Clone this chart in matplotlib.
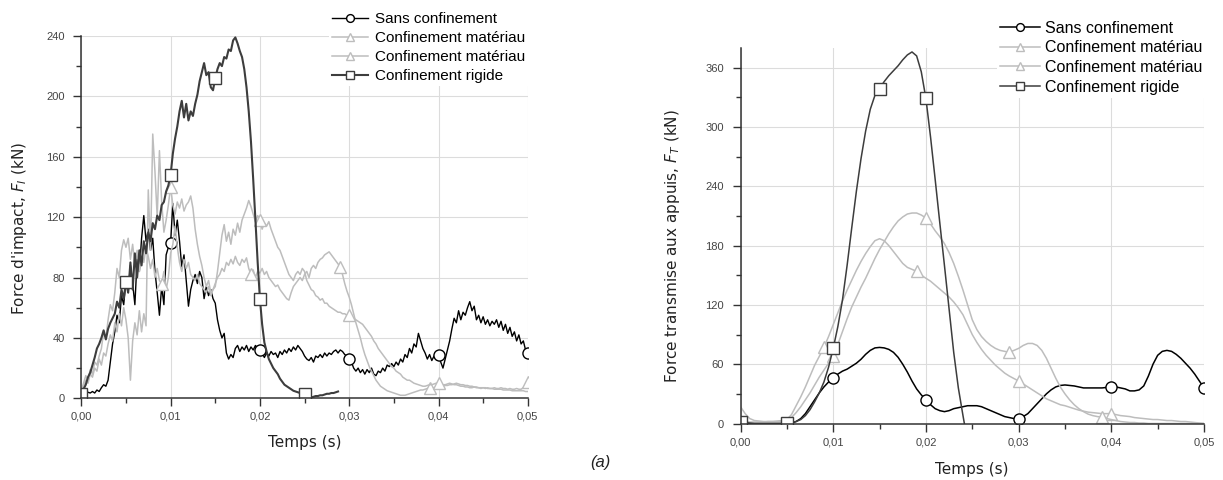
import numpy as np
import matplotlib
matplotlib.use("Agg")
import matplotlib.pyplot as plt
from matplotlib.ticker import MultipleLocator, FuncFormatter

plt.rcParams['font.family'] = ['Liberation Sans', 'DejaVu Sans']

# Grilles temporelles (s) : 0,25 ms pour F_I, 0,5 ms pour F_T
t_I = np.arange(201) * 0.25e-3
t_T = np.arange(101) * 0.5e-3

labels = ["Sans confinement", "Confinement matériau",
          "Confinement matériau", "Confinement rigide"]

# ---- Force d'impact F_I (kN) ----
sans_I = [2, 3, 2.5, 4, 3.5, 4.5, 3.5, 5.5, 4.5, 7, 9, 8, 12, 24, 36, 44, 55, 50, 68, 62,
          78, 70, 88, 76, 62, 92, 84, 106, 121, 104, 112, 98, 106, 84, 70, 55, 74, 62, 95, 100,
          103, 129, 108, 118, 104, 87, 95, 78, 61, 72, 78, 82, 76, 84, 80, 66, 74, 68, 72, 66,
          63, 52, 45, 40, 43, 30, 26, 29, 27, 33, 35, 31, 34, 32, 35, 31, 34, 32, 35, 33,
          32, 30, 27, 30, 28, 31, 29, 30, 27, 31, 29, 32, 30, 33, 31, 34, 32, 35, 33, 31,
          28, 26, 25, 27, 24, 28, 27, 29, 27, 30, 28, 30, 29, 31, 32, 30, 32, 31, 29, 28,
          26, 24, 20, 18, 20, 17, 19, 16, 19, 17, 20, 16, 15, 18, 17, 20, 18, 22, 21, 23,
          21, 24, 22, 26, 24, 29, 27, 33, 30, 36, 34, 43, 38, 33, 30, 26, 29, 25, 28, 27,
          29, 24, 20, 26, 32, 38, 46, 53, 50, 58, 52, 57, 55, 60, 64, 58, 61, 52, 55, 50,
          54, 49, 52, 48, 51, 49, 52, 47, 51, 45, 49, 43, 47, 41, 44, 38, 42, 36, 38, 32,
          30]
matP_I = [5, 10, 15, 12, 19, 16, 24, 22, 28, 33, 44, 40, 52, 62, 58, 70, 86, 80, 98, 105,
          100, 106, 92, 102, 88, 98, 84, 96, 90, 100, 94, 86, 92, 80, 86, 78, 76, 84, 72, 80,
          96, 102, 114, 100, 90, 84, 92, 86, 90, 82, 80, 78, 82, 76, 74, 72, 70, 74, 68, 72,
          76, 80, 82, 86, 84, 90, 88, 92, 89, 94, 90, 88, 92, 90, 93, 86, 82, 85, 80, 84,
          83, 86, 82, 84, 80, 78, 76, 74, 75, 72, 70, 68, 66, 65, 70, 74, 76, 78, 80, 78,
          82, 84, 80, 86, 88, 86, 90, 92, 93, 95, 96, 97, 95, 93, 91, 89, 87, 82, 76, 71,
          67, 62, 56, 50, 45, 40, 34, 29, 25, 21, 18, 15, 12, 10, 8, 7, 6, 5, 4.5, 4,
          3.5, 3, 2.5, 2, 2, 2, 2.5, 3, 3.5, 4, 4.5, 5, 5.5, 5.5, 6, 6.5, 6.6, 7, 7, 7.5,
          7.5, 8, 8, 8.5, 8.5, 9, 9, 9.5, 10, 9.5, 9, 9, 8.5, 8.5, 8, 8, 7.5, 7.5, 7, 7,
          7, 7, 6.5, 6.5, 6.5, 6, 6, 6, 6, 5.5, 5.5, 5.5, 5.5, 5, 5, 5, 5, 5, 5, 4.5,
          4.5]
matQ_I = [3, 8, 12, 10, 16, 14, 20, 18, 26, 22, 30, 28, 36, 42, 38, 50, 44, 56, 48, 60,
          52, 40, 12, 38, 50, 42, 58, 44, 56, 48, 138, 98, 175, 150, 120, 164, 130, 110, 118, 128,
          140, 128, 122, 130, 126, 132, 124, 128, 130, 134, 126, 112, 102, 94, 88, 80, 74, 78, 70, 72,
          74, 84, 96, 108, 115, 104, 110, 102, 112, 108, 116, 110, 118, 122, 126, 131, 127, 122, 117, 121,
          118, 112, 116, 114, 117, 112, 108, 104, 100, 98, 94, 90, 86, 82, 80, 78, 82, 84, 82, 86,
          84, 78, 75, 72, 71, 68, 67, 65, 66, 63, 63, 61, 60, 59, 58, 57, 57, 56, 56, 55,
          55, 54, 53, 52, 51, 50, 49, 47, 45, 43, 41, 38, 36, 33, 31, 29, 27, 25, 23, 21,
          20, 18, 17, 16, 14, 13, 12, 12, 11, 10, 9.5, 9, 8.5, 8, 8, 8.5, 9, 9, 9.5, 10,
          10, 9.5, 9, 9, 9.5, 10, 9.5, 9, 9, 8.5, 8, 8, 7.5, 7.5, 7, 7, 7.5, 7, 7, 6.5,
          7, 6.5, 7, 6.5, 6.5, 7, 6.5, 6.5, 7, 6.5, 6.5, 6, 6.5, 6, 6, 6.5, 6, 6, 7, 9,
          11]
rig_I = [3, 6, 9, 14, 17, 22, 27, 33, 36, 40, 45, 39, 46, 50, 53, 56, 64, 60, 72, 66,
         77, 70, 90, 72, 96, 80, 98, 88, 104, 96, 110, 104, 116, 112, 121, 118, 128, 130, 137, 141,
         148, 162, 172, 180, 190, 197, 186, 195, 184, 190, 187, 195, 201, 210, 216, 222, 214, 216, 206, 204,
         212, 218, 222, 220, 226, 225, 231, 230, 237, 239, 235, 230, 226, 218, 206, 190, 170, 145, 118, 90,
         66, 49, 37, 31, 26, 23, 20, 18, 16, 13, 11, 9, 8, 7, 6, 5, 4.5, 4, 3.5, 3,
         3, 1, 0, 0.5, 1, 1.5, 1.5, 2, 2, 2.5, 3, 3, 3.5, 3.5, 4, 4.5]

# ---- Force transmise aux appuis F_T (kN) ----
sans_T = [0, 0, 0, 0, 0, 0, 0, 0, 0, 0,
          0, 0.5, 2, 5, 10, 17, 24, 31, 37, 42,
          46, 50, 53, 55, 58, 61, 65, 70, 74, 76.5,
          77, 76.5, 75, 72, 67, 60, 52, 43, 35, 29,
          24, 19, 15, 13, 12, 13, 15, 16, 17, 18,
          18, 18, 17, 15, 13, 11, 9, 7, 6, 5,
          5, 7, 10, 15, 20, 25, 30, 34, 37, 38.5,
          39, 38.5, 38, 37, 36, 36, 36, 36, 36, 36.5,
          37, 37, 36, 35, 33, 33, 34, 38, 48, 60,
          69, 73, 74, 73, 70, 66, 61, 56, 50, 43,
          36]
matA_T = [17, 10, 5, 3, 2.5, 2, 2, 2, 2.5, 3,
          4, 9, 18, 27, 37, 48, 59, 68, 77, 88,
          100, 112, 124, 135, 145, 155, 164, 172, 179, 185,
          187, 185, 180, 174, 168, 162, 158, 156, 154, 150,
          147, 144, 140, 136, 132, 128, 123, 117, 110, 100,
          90, 82, 75, 69, 64, 59, 55, 51, 48, 45.5,
          43, 40, 37, 34, 31, 28, 25, 23, 21, 19,
          18, 16.5, 15, 13.5, 12.5, 11.5, 11, 10.5, 10, 10,
          10, 9, 8, 7.5, 7, 6, 5.5, 5, 4.5, 4,
          4, 3.5, 3, 3, 2.5, 2, 2, 1.5, 1, 0.5,
          0]
matB_T = [2, 2, 1.5, 1.5, 1.5, 1.5, 2, 2, 2, 2.5,
          3, 6, 11, 17, 24, 31, 39, 47, 54, 61,
          68, 80, 93, 106, 118, 128, 138, 147, 157, 167,
          176, 184, 192, 199, 205, 209, 212, 213, 213, 211,
          208, 202, 195, 189, 182, 173, 162, 149, 135, 120,
          105, 95, 88, 83, 79, 76, 74, 73, 72, 74,
          76, 79, 81, 81, 79, 74, 66, 56, 46, 37,
          30, 24, 19, 15, 12, 9.5, 8, 7, 6.4, 5,
          4, 3, 2, 1.5, 1, 1, 0.5, 0.5, 0, 0,
          0, 0, 0, 0, 0, 0, 0, 0, 0, 0,
          0]
rig_T = [2, 1, 0.5, 0, 0, 0, 0, 0, 0, 0,
         1, 1, 2, 4, 8, 14, 22, 31, 42, 57,
         76, 98, 125, 160, 198, 235, 268, 296, 318, 332,
         339, 346, 352, 357, 362, 368, 373, 376, 372, 356,
         329, 290, 247, 203, 160, 116, 72, 36, 8]
rig_T_zero = 0.02415  # retour à zéro du confinement rigide

# instants des symboles (s)
mk_sans = [0.01, 0.02, 0.03, 0.04, 0.05]
mk_rig = [0.0, 0.005, 0.01, 0.015, 0.02, 0.025]
mk_P_I = [0.009, 0.019, 0.029, 0.039]
mk_Q_I = [0.01, 0.02, 0.03, 0.04, 0.05]
mk_A_T = [0.009, 0.019, 0.03, 0.04]
mk_B_T = [0.01, 0.02, 0.029, 0.039]

BLACK = "#000000"
GRAY = "#bdbdbd"
DARK = "#3d3d3d"
AXC = "#333333"


def idx(t, marks):
    return [int(np.argmin(np.abs(t - m))) for m in marks]


def curve(ax, t, y, color, marker, marks, lw):
    t = np.asarray(t)
    ax.plot(t, y, color=color, lw=lw, marker=marker, markevery=idx(t, marks),
            markersize=8, markerfacecolor="white", markeredgecolor=color,
            markeredgewidth=1.0)


def style(ax, ymax, ystep):
    ax.set_xlim(0, 0.05)
    ax.set_ylim(0, ymax)
    ax.xaxis.set_major_locator(MultipleLocator(0.01))
    ax.xaxis.set_minor_locator(MultipleLocator(0.005))
    ax.yaxis.set_major_locator(MultipleLocator(ystep))
    ax.yaxis.set_minor_locator(MultipleLocator(ystep / 2))
    ax.xaxis.set_major_formatter(FuncFormatter(lambda v, p: f"{v:.2f}".replace(".", ",")))
    ax.grid(True, which="major", color="#dcdcdc", lw=0.8)
    ax.set_axisbelow(True)
    for s in ("top", "right"):
        ax.spines[s].set_visible(False)
    for s in ("left", "bottom"):
        ax.spines[s].set_color(AXC)
        ax.spines[s].set_linewidth(1.1)
    ax.tick_params(which="both", direction="out", color=AXC, width=1.0,
                   labelsize=8, labelcolor="#444444")
    ax.tick_params(which="major", length=6)
    ax.tick_params(which="minor", length=3.6)
    ax.tick_params(axis="x", pad=3.8)
    ax.tick_params(axis="y", pad=6)


def legend(ax, x, y, size, spacing, hlen, hpad):
    leg = ax.legend(labels, loc="upper left", bbox_to_anchor=(x / W, 1 - y / H),
                    bbox_transform=fig.transFigure, frameon=True, borderpad=0.2,
                    borderaxespad=0, handlelength=hlen, handletextpad=hpad,
                    labelspacing=spacing, markerscale=0.7, fontsize=size)
    leg.get_frame().set_facecolor("white")
    leg.get_frame().set_edgecolor("none")
    leg.get_frame().set_alpha(1.0)
    leg.get_frame().set_boxstyle("square", pad=0)


fig = plt.figure(figsize=(12.23, 4.8), dpi=100)
W, H = 1223.0, 480.0
ax1 = fig.add_axes([81.3 / W, 1 - 398.3 / H, 446.5 / W, 362.4 / H])
ax2 = fig.add_axes([740.5 / W, 1 - 423.5 / H, 463.5 / W, 375.5 / H])

# panneau gauche : force d'impact
curve(ax1, t_I, sans_I, BLACK, "o", mk_sans, 1.0)
curve(ax1, t_I, matP_I, GRAY, "^", mk_P_I, 1.1)
curve(ax1, t_I, matQ_I, GRAY, "^", mk_Q_I, 1.1)
curve(ax1, t_I[:len(rig_I)], rig_I, DARK, "s", mk_rig, 1.5)
style(ax1, 240, 40)

# panneau droit : force transmise
curve(ax2, t_T, sans_T, BLACK, "o", mk_sans, 1.1)
curve(ax2, t_T, matA_T, GRAY, "^", mk_A_T, 1.1)
curve(ax2, t_T, matB_T, GRAY, "^", mk_B_T, 1.1)
curve(ax2, np.append(t_T[:len(rig_T)], rig_T_zero), rig_T + [0], DARK, "s", mk_rig[:-1], 1.1)
style(ax2, 380, 60)

legend(ax1, 328.7, 9.1, 11, 0.33, 2.4, 0.4)
legend(ax2, 996.8, 17.5, 11.5, 0.29, 2.5, 0.31)

lab = dict(family="DejaVu Sans", fontsize=11, color="#222222")
fig.text(19.3 / W, 1 - 228 / H, "Force d'impact, $F_I$ (kN)", rotation=90,
         ha="center", va="center", **lab)
fig.text(672.5 / W, 1 - 246.5 / H, "Force transmise aux appuis, $F_T$ (kN)",
         rotation=90, ha="center", va="center", **lab)
fig.text(304.5 / W, 1 - 443 / H, "Temps (s)", ha="center", va="center", **lab)
fig.text(972 / W, 1 - 469.6 / H, "Temps (s)", ha="center", va="center", **lab)
fig.text(600 / W, 1 - 463 / H, "(a)", ha="center", va="center", style="italic",
         fontsize=12, color="#222222")

fig.savefig("out.png", dpi=100)
